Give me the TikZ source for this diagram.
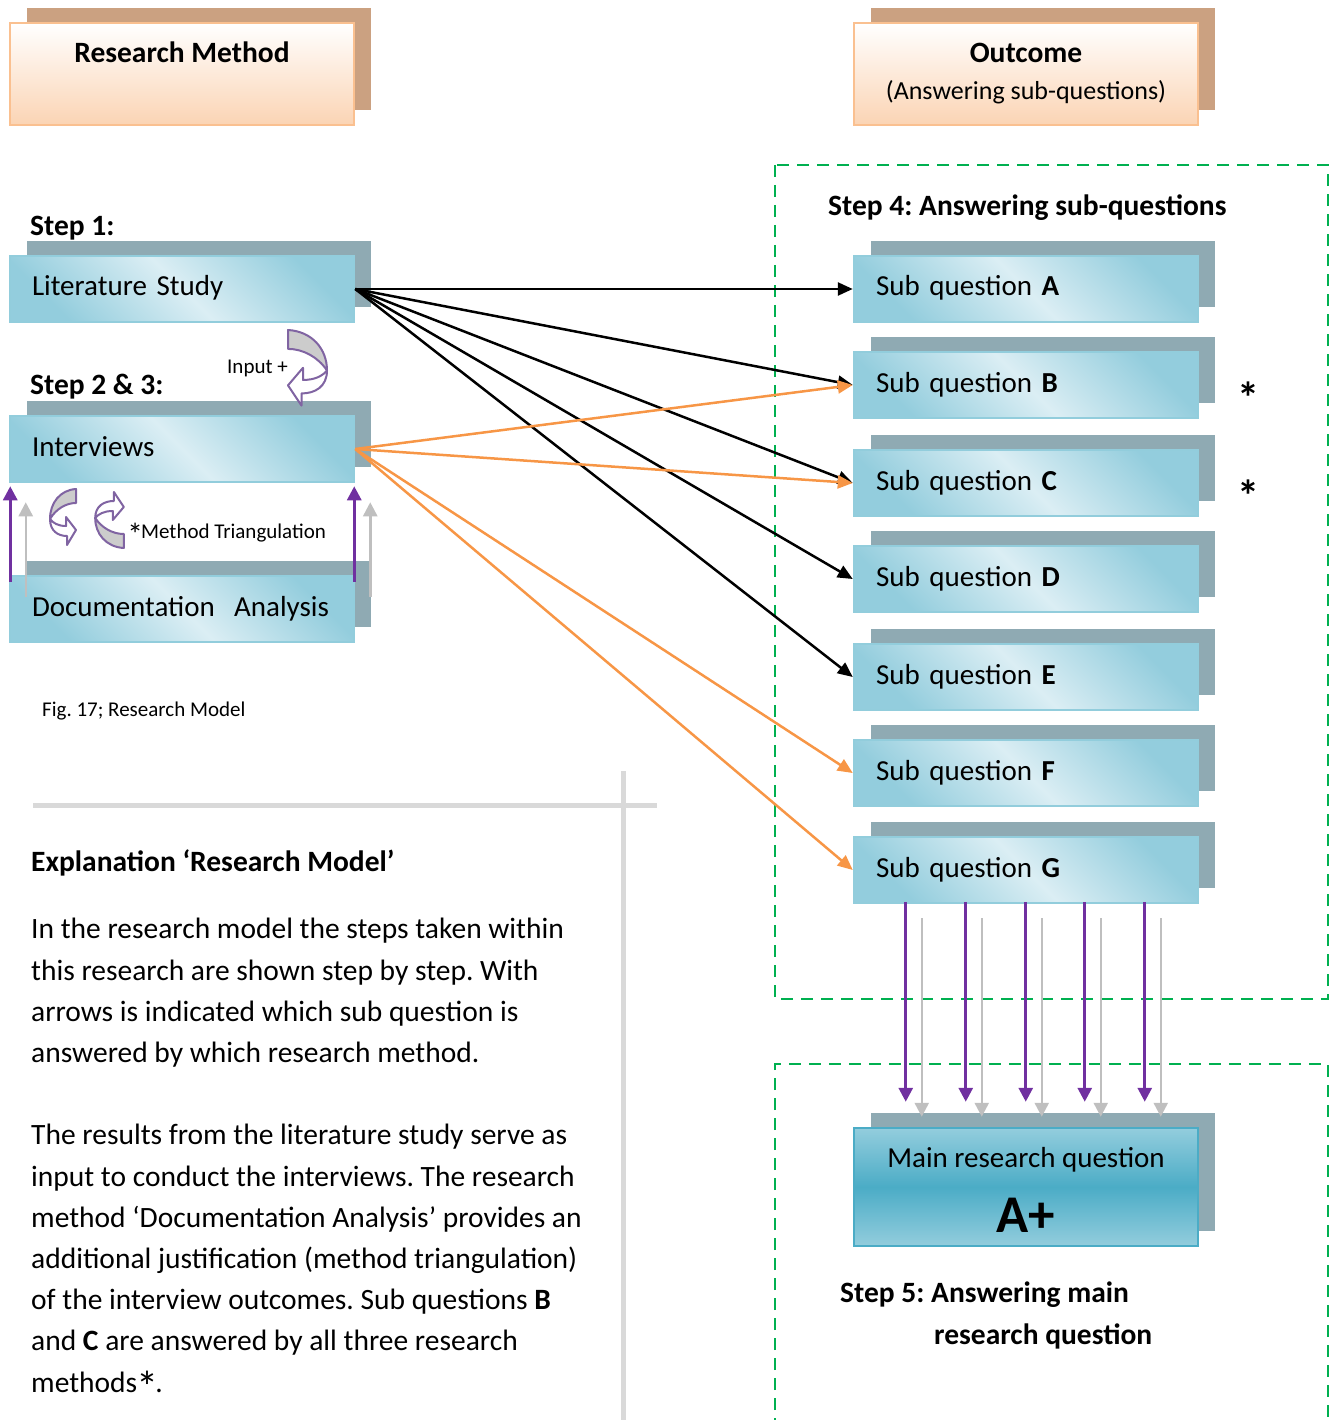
\documentclass[tikz,border=0pt]{standalone}
\usepackage{fontspec}
\setmainfont{Carlito}
\usetikzlibrary{arrows.meta,shadows,calc}
\frenchspacing

\definecolor{shblue}{HTML}{8FAAB3}
\definecolor{lightblue}{HTML}{DBEEF4}
\definecolor{midblue}{HTML}{93CDDD}
\definecolor{edgeblue}{HTML}{92CDDC}
\definecolor{deepblue}{HTML}{4BACC6}
\definecolor{shtan}{HTML}{CBA181}
\definecolor{peach}{HTML}{FBD4B4}
\definecolor{peachedge}{HTML}{FAC090}
\definecolor{qgreen}{HTML}{00B050}
\definecolor{qorange}{HTML}{F79646}
\definecolor{qpurple}{HTML}{7030A0}
\definecolor{qgrey}{HTML}{BFBFBF}
\definecolor{rulegrey}{HTML}{D9D9D9}
\definecolor{curlpurple}{HTML}{8064A2}
\definecolor{curlgrey}{HTML}{CCCCCC}

\newcommand{\pxsize}[1]{\fontsize{#1pt}{#1pt}\selectfont}
% a fuller, lower-set asterisk
\newcommand{\bigast}{\kern-0.04em\raisebox{-0.35em}{\scalebox{1.5}{*}}\kern-0.09em}

\tikzset{
  stepbox/.style={minimum width=344pt, minimum height=66pt, inner sep=0pt,
    draw=edgeblue, line width=2.5pt,
    top color=midblue, bottom color=midblue, middle color=lightblue, shading angle=-45,
    drop shadow={shadow xshift=16.5pt, shadow yshift=15pt, fill=shblue, opacity=1},
    text width=300pt, align=left, text height=20pt, text depth=6pt, font=\pxsize{29}},
  headbox/.style={minimum width=344pt, minimum height=102pt, inner sep=0pt,
    draw=peachedge, line width=2.5pt, top color=white, bottom color=peach,
    drop shadow={shadow xshift=16.5pt, shadow yshift=15pt, fill=shtan, opacity=1}},
  mainbox/.style={minimum width=344pt, minimum height=118pt, inner sep=0pt,
    draw=deepblue, line width=2.5pt,
    top color=midblue, bottom color=midblue, middle color=deepblue,
    drop shadow={shadow xshift=16.5pt, shadow yshift=15pt, fill=shblue, opacity=1}},
  lbl/.style={inner sep=0pt, font=\pxsize{29.5}},
  small/.style={inner sep=0pt, font=\pxsize{21}},
  blackarr/.style={-{Triangle[length=15pt,width=13pt]}, line width=2.5pt, black},
  orangearr/.style={-{Triangle[length=15pt,width=13pt]}, line width=2.5pt, qorange},
  purparr/.style={-{Triangle[length=14pt,width=14pt]}, line width=3pt, qpurple},
  greyarr/.style={-{Triangle[length=14pt,width=14pt]}, line width=2.5pt, qgrey},
  greendash/.style={qgreen, line width=2.5pt, dash pattern=on 12pt off 8pt},
  rule/.style={rulegrey, line width=5pt},
  curlarrow/.pic={
    % back face of the ribbon
    \filldraw[fill=curlgrey, draw=curlpurple, line width=2pt, line join=round]
      (28,0) .. controls (12,1) and (2,14) .. (2,30)
      .. controls (8,20) and (18,14) .. (28,14) -- cycle;
    % front face with the arrow head
    \filldraw[fill=white, draw=curlpurple, line width=2pt, line join=round]
      (2,30) .. controls (2,42) and (10,47) .. (19,47)
      -- (19,56) -- (28,41) -- (18,28) -- (18,37)
      .. controls (10,37) and (5,34) .. (2,30) -- cycle;
  }
}

\begin{document}
\begin{tikzpicture}[x=1pt, y=-1pt]
\useasboundingbox (0,0) rectangle (1335,1420);

% frames around steps 4 and 5
\draw[greendash] (775,165) rectangle (1328,999);
\draw[greendash] (775,1430) -- (775,1064) -- (1328,1064) -- (1328,1430);

% separators of the explanation block
\draw[rule] (33,805) -- (657,805);
\draw[rule] (623,771) -- (623,1430);

% column headers
\node[headbox] (hrm) at (182,74) {};
\node[headbox] (hout) at (1026,74) {};
\node[lbl, anchor=base] (hrmt) at (182,63) {\textbf{Research Method}};
\node[lbl, anchor=base] (houtt) at (1026,63) {\textbf{Outcome}};
\node[inner sep=0pt, font=\pxsize{26}, anchor=base] (houts) at (1026,100) {(Answering sub-questions)};

% research methods
\node[lbl, anchor=base west] (s1) at (30,236) {\textbf{Step 1:}};
\node[stepbox] (lit) at (182,289) {Literature Study};
\node[lbl, anchor=base west] (s23) at (30,394) {\textbf{Step 2 \& 3:}};
\node[stepbox] (int) at (182,449) {Interviews};
\node[stepbox] (doc) at (182,609) {Documentation\ \ Analysis};
\node[small, anchor=base west] (inp) at (227,373) {Input +};
\node[small, anchor=base west] (tri) at (128,538) {\bigast Method Triangulation};
\node[small, anchor=base west] (fig) at (42,716) {Fig. 17; Research Model};

% curved arrows
\pic[xscale=-1.5, yscale=1.35] at (330,330) {curlarrow};
\pic at (48,489) {curlarrow};
\pic[xscale=1.1, yscale=-1] at (93,548) {curlarrow};

% sub questions
\node[lbl, anchor=base west] (s4) at (828,216) {\textbf{Step 4: Answering sub-questions}};
\node[stepbox] (sqA) at (1026,289) {Sub question \textbf{A}};
\node[stepbox] (sqB) at (1026,385) {Sub question \textbf{B}};
\node[stepbox] (sqC) at (1026,483) {Sub question \textbf{C}};
\node[stepbox] (sqD) at (1026,579) {Sub question \textbf{D}};
\node[stepbox] (sqE) at (1026,677) {Sub question \textbf{E}};
\node[stepbox] (sqF) at (1026,773) {Sub question \textbf{F}};
\node[stepbox] (sqG) at (1026,870) {Sub question \textbf{G}};
\node[lbl, anchor=base] (astB) at (1248,403) {\textbf{\bigast}};
\node[lbl, anchor=base] (astC) at (1248,501) {\textbf{\bigast}};

% main research question
\node[mainbox] (mq) at (1026,1187) {};
\node[inner sep=0pt, font=\pxsize{29}, anchor=base] (mqt) at (1026,1167) {Main research question};
\node[inner sep=0pt, font=\pxsize{53}, anchor=base] (mqa) at (1026,1232) {\textbf{A+}};
\node[lbl, anchor=base west] (s5a) at (840,1302) {\textbf{Step 5: Answering main}};
\node[lbl, anchor=base west] (s5b) at (934,1344) {\textbf{research question}};

% literature study answers
\foreach \t in {sqA,sqB,sqC,sqD,sqE}
  \draw[blackarr] (lit.east) -- (\t.west);
% interviews answer
\foreach \t in {sqB,sqC,sqF,sqG}
  \draw[orangearr] (int.east) -- (\t.west);

% method triangulation between interviews and documentation
\draw[purparr] ([xshift=1.5pt,yshift=-7pt]doc.north west) -- ([xshift=1.5pt,yshift=-3pt]int.south west);
\draw[greyarr] ([xshift=17pt,yshift=-22pt]doc.north west) -- ([xshift=17pt,yshift=-19pt]int.south west);
\draw[purparr] ([xshift=-1pt,yshift=-7pt]doc.north east) -- ([xshift=-1pt,yshift=-3pt]int.south east);
\draw[greyarr] ([xshift=15pt,yshift=-22pt]doc.north east) -- ([xshift=15pt,yshift=-19pt]int.south east);

% sub questions feed the main question
\foreach \p/\g in {53/69,113/129,173/189,232/248,292/308}{
  \draw[purparr] ([xshift=\p pt,yshift=2pt]sqG.south west) -- ([xshift=\p pt,yshift=25pt]mq.north west);
  \draw[greyarr] ([xshift=\g pt,yshift=-14pt]sqG.south west) -- ([xshift=\g pt,yshift=10pt]mq.north west);
}

% explanation
\node[lbl, anchor=base west] (expt) at (31,871) {\textbf{Explanation ‘Research Model’}};
\foreach \n/\y/\txt in {
  1/938/{In the research model the steps taken within},
  2/980/{this research are shown step by step. With},
  3/1021/{arrows is indicated which sub question is},
  4/1062/{answered by which research method.},
  5/1144/{The results from the literature study serve as},
  6/1186/{input to conduct the interviews. The research},
  7/1227/{method ‘Documentation Analysis’ provides an},
  8/1268/{additional justification (method triangulation)},
  9/1309/{of the interview outcomes. Sub questions \textbf{B}},
  10/1350/{and \textbf{C} are answered by all three research},
  11/1392/{methods\bigast.}}
  \node[lbl, anchor=base west] (par\n) at (31,\y) {\txt};
\end{tikzpicture}
\end{document}
